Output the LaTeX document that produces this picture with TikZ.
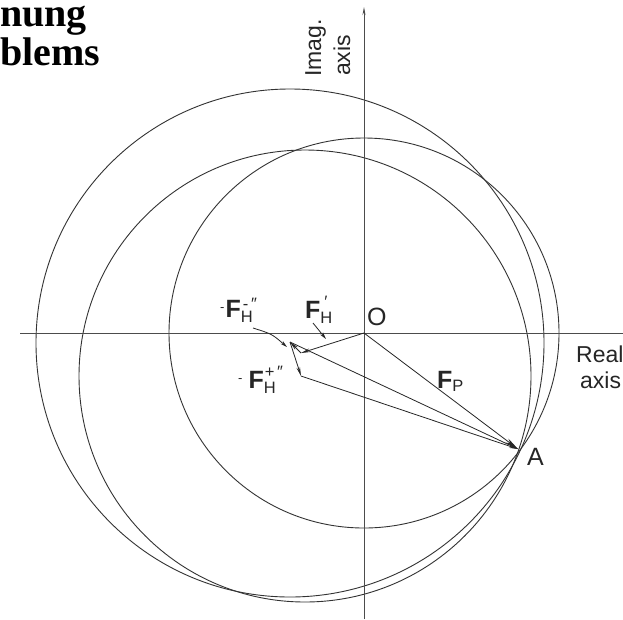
\documentclass[tikz,border=0pt]{standalone}
\usepackage{fontspec}
\setmainfont{Liberation Serif}
\newfontfamily\lab{Liberation Sans}
\usetikzlibrary{arrows.meta}
\newcommand\subsz{\fontsize{16.5}{16.5}\selectfont}
\begin{document}
\begin{tikzpicture}[x=1pt,y=-1pt,
  curve/.style={line width=0.9pt, black!80},
  axisline/.style={line width=0.8pt, black!70},
  vec/.style={line width=0.8pt, black!85, -{Stealth[length=9pt,width=3.6pt]}},
  bigvec/.style={line width=0.8pt, black!85, -{Stealth[length=14pt,width=5pt]}},
  pointer/.style={line width=0.8pt, black!85, -{Stealth[length=7pt,width=3.6pt]}},
  lbl/.style={font=\lab\fontsize{23}{23}\selectfont, inner sep=0pt, black!85},
  flbl/.style={font=\lab\fontsize{25}{25}\selectfont, inner sep=0pt, black!85},
  title/.style={font=\fontsize{40}{40}\selectfont\bfseries, inner sep=0pt}]
\useasboundingbox (0,0) rectangle (623,619);
\fill[white] (0,0) rectangle (623,619);
% title fragments
\node[title, anchor=base west] (t1) at (0,26) {nung};
\node[title, anchor=base west] (t2) at (0,65) {blems};
% circles
\coordinate (O) at (364,333);
\coordinate (C1) at (290,343);
\coordinate (C2) at (305,376);
\draw[curve] (C1) circle [radius=254pt];
\draw[curve] (C2) circle [radius=226pt];
\draw[curve] (O) circle [radius=195pt];
% axes
\coordinate (yb) at (364,619);
\coordinate (yt) at (364,7);
\coordinate (xl) at (20,333);
\coordinate (xr) at (623,333);
\draw[axisline, -{Stealth[length=8pt,width=3pt]}] (yb) -- (yt);
\draw[axisline] (xl) -- (xr);
% axis labels
\node[lbl, rotate=90, anchor=base west] (im1) at (321,77) {Imag.};
\node[lbl, rotate=90, anchor=base west] (im2) at (350,76) {axis};
\node[lbl, anchor=base west] (re1) at (576,362) {Real};
\node[lbl, anchor=base west] (re2) at (580,388) {axis};
% points
\coordinate (A) at (518,449);
\coordinate (P1) at (301,353);
\coordinate (P2) at (290,342);
\coordinate (P3) at (301,376);
% vectors
\draw[bigvec] (O) -- (A);
\draw[vec] (O) -- (P1);
\draw[vec] (P1) -- (P2);
\draw[vec] (P2) -- (P3);
\draw[vec] (P2) -- (A);
\draw[vec] (P3) -- (A);
% labels
\node[flbl, anchor=base west] (lO) at (367,325) {O};
\node[flbl, anchor=base west] (lA) at (527,465) {A};
\node[flbl, anchor=base west] (lFP) at (437,388) {{\bfseries F}\raisebox{-3pt}{\subsz P}};
\node[flbl, anchor=base west] (lFH1) at (305,318) {{\bfseries F}\rlap{\raisebox{-5pt}{\subsz H}}\raisebox{11pt}{\subsz\hspace{4pt}′}};
\node[flbl, anchor=base west] (lFH2) at (220,317) {\raisebox{6pt}{\fontsize{13}{13}\selectfont -}\hspace{1pt}{\bfseries F}\rlap{\raisebox{-5pt}{\subsz H}}\raisebox{8pt}{\subsz\hspace{2pt}-\,″}};
\node[flbl, anchor=base west] (lFH3) at (238,388) {\raisebox{6pt}{\fontsize{13}{13}\selectfont -}\hspace{6pt}{\bfseries F}\rlap{\raisebox{-5pt}{\subsz H}}\raisebox{11pt}{\subsz\hspace{1pt}+\,″}};
% pointers
\coordinate (q1s) at (313,323);
\coordinate (q1e) at (326,339);
\draw[pointer] (q1s) -- (q1e);
\coordinate (q2s) at (253,328);
\coordinate (q2c) at (272,334);
\coordinate (q2e) at (287,347);
\draw[pointer] (q2s) .. controls (q2c) .. (q2e);
\end{tikzpicture}
\end{document}
